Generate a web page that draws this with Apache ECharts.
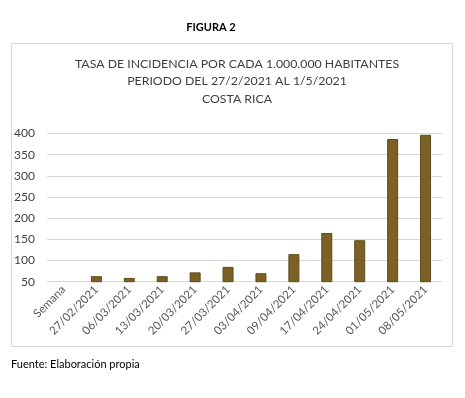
<!DOCTYPE html>
<html><head><meta charset="utf-8">
<script src="https://cdn.jsdelivr.net/npm/echarts@6/dist/echarts.min.js"></script>
<style>html,body{margin:0;padding:0;background:#fff}#c{width:465px;height:398px}</style>
</head><body><div id="c"></div>
<script>
const categories = ['Semana','27/02/2021','06/03/2021','13/03/2021','20/03/2021','27/03/2021','03/04/2021','09/04/2021','17/04/2021','24/04/2021','01/05/2021','08/05/2021'];
const values = [null, 63, 59, 63, 72, 85, 70, 115, 165, 148, 387, 397];
const yTicks = [50, 400, 50];
const titleLines = ['TASA DE INCIDENCIA POR CADA 1.000.000 HABITANTES','PERIODO DEL 27/2/2021 AL 1/5/2021','COSTA RICA'];
const figLabel = 'FIGURA 2';
const source = 'Fuente: Elaboración propia';

const font = 'Lato';
const chart = echarts.init(document.getElementById('c'), null, {renderer:'canvas'});
chart.setOption({
  animation:false,
  backgroundColor:'#fff',
  graphic:[
    {type:'rect', shape:{x:11.5,y:43.5,width:441,height:303}, style:{fill:'#fff',stroke:'#d9d9d9',lineWidth:1}, z:-10},
    {type:'text', style:{text:figLabel, x:211, y:27, align:'center', verticalAlign:'middle', font:'bold 11px '+font, fill:'#000'}},
    {type:'text', style:{text:source, x:11, y:364, align:'left', verticalAlign:'middle', font:'11px '+font, fill:'#000'}}
  ],
  title:{
    text:titleLines.join('\n'), left:232, top:50, textAlign:'center',
    textStyle:{fontFamily:font, fontSize:12.3, fontWeight:'normal', color:'#404040', lineHeight:17.5}
  },
  grid:{left:47, right:23, top:133.5, bottom:116.3, containLabel:false},
  xAxis:{
    type:'category', data:categories,
    axisLine:{show:true, lineStyle:{color:'#d9d9d9', width:1}},
    axisTick:{show:false},
    axisLabel:{rotate:45, interval:0, fontFamily:font, fontSize:11.5, color:'#595959', margin:6}
  },
  yAxis:{
    type:'value', min:yTicks[0], max:yTicks[1], interval:yTicks[2],
    axisLine:{show:false}, axisTick:{show:false},
    splitLine:{lineStyle:{color:'#d9d9d9', width:1}},
    axisLabel:{fontFamily:font, fontSize:12, color:'#404040', margin:12}
  },
  series:[{
    type:'bar', data:values, barWidth:11,
    itemStyle:{color:'#7b6125', borderColor:'#5e4a1a', borderWidth:1}
  }]
});
</script></body></html>
